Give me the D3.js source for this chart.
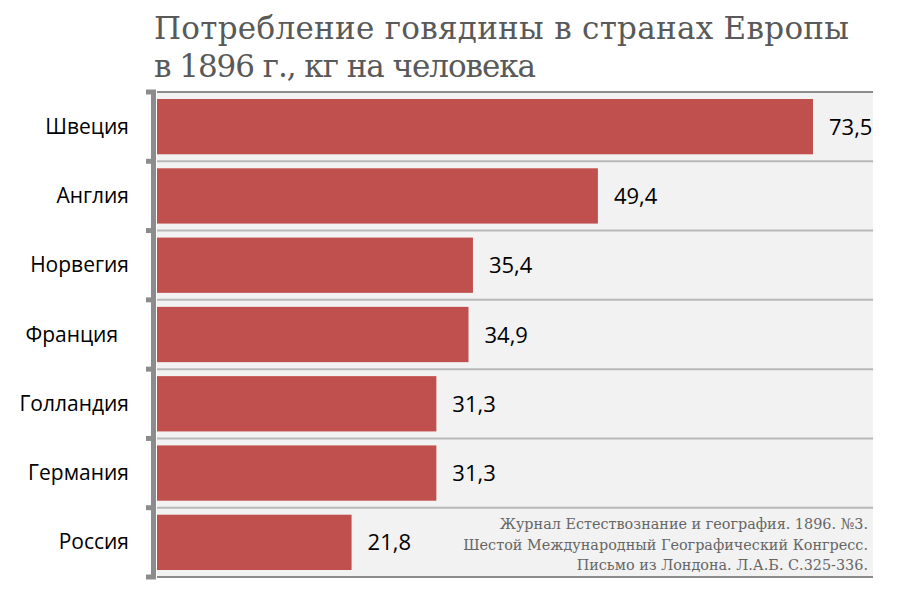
<!DOCTYPE html>
<html><head><meta charset="utf-8">
<script src="https://cdn.jsdelivr.net/npm/d3@7"></script>
<style>body{margin:0;background:#fff}svg{display:block}</style>
</head><body>
<script>
const categories = ["Швеция","Англия","Норвегия","Франция\u00a0\u00a0","Голландия","Германия","Россия"];
const values = [73.5,49.4,35.4,34.9,31.3,31.3,21.8];
const valueLabels = ["73,5","49,4","35,4","34,9","31,3","31,3","21,8"];
const titleLines = ["Потребление говядины в странах Европы","в 1896 г., кг на человека"];
const sourceLines = ["Журнал Естествознание и география. 1896. №3.","Шестой Международный Географический Конгресс.","Письмо из Лондона. Л.А.Б. С.325-336."];

const W=900,H=605;
const svg=d3.select("body").append("svg").attr("width",W).attr("height",H);
const x=d3.scaleLinear().domain([0,80]).range([157,871]);
const y=d3.scaleBand().domain(d3.range(categories.length)).range([92,577]).paddingInner(0).paddingOuter(0);

// background
svg.append("rect").attr("x",157).attr("y",92).attr("width",716).attr("height",485).attr("fill","#f2f2f2");
// separators
svg.selectAll("line.sep").data(d3.range(1,categories.length)).join("line")
  .attr("x1",157).attr("x2",873).attr("y1",d=>y(d)).attr("y2",d=>y(d))
  .attr("stroke","#b8b8b8").attr("stroke-width",2);
svg.append("line").attr("x1",157).attr("x2",873).attr("y1",92).attr("y2",92).attr("stroke","#8c8c8c").attr("stroke-width",2);
svg.append("line").attr("x1",157).attr("x2",873).attr("y1",577).attr("y2",577).attr("stroke","#8c8c8c").attr("stroke-width",2);

// bars
const bw=y.bandwidth();
svg.selectAll("rect.bar").data(values).join("rect")
  .attr("x",x(0)).attr("y",(d,i)=>y(i)+7).attr("height",bw-14)
  .attr("width",d=>x(d)-x(0)).attr("fill","#c0504d");

// value labels
svg.selectAll("text.val").data(values).join("text")
  .attr("x",d=>x(d)+16).attr("y",(d,i)=>y(i)+bw/2+8)
  .attr("font-family","Open Sans").attr("font-size",22).attr("fill","#000")
  .text((d,i)=>valueLabels[i]);

// axis
const axis=d3.axisLeft(y).tickValues([]).tickSize(0);
const g=svg.append("g").attr("transform","translate(153.5,0)").call(axis);
g.select(".domain").attr("stroke","#8c8c8c").attr("stroke-width",5).attr("d","M0,90V579");
svg.selectAll("line.tick").data(d3.range(categories.length+1)).join("line")
  .attr("x1",146).attr("x2",156)
  .attr("y1",d=>d<categories.length?y(d):577).attr("y2",d=>d<categories.length?y(d):577)
  .attr("stroke","#8c8c8c").attr("stroke-width",5);

// category labels
svg.selectAll("text.cat").data(categories).join("text")
  .attr("x",129).attr("y",(d,i)=>y(i)+bw/2+7).attr("text-anchor","end")
  .attr("font-family","Open Sans").attr("font-size",21).attr("fill","#000")
  .attr("xml:space","preserve").text(d=>d);

// title
const titleWidths=[695,382];
svg.selectAll("text.title").data(titleLines).join("text")
  .attr("x",154).attr("y",(d,i)=>39+i*38)
  .attr("font-family","DejaVu Serif").attr("font-size",31).attr("fill","#595959")
  .attr("textLength",(d,i)=>titleWidths[i]).attr("lengthAdjust","spacing")
  .text(d=>d);

// source
svg.selectAll("text.src").data(sourceLines).join("text")
  .attr("x",868).attr("y",(d,i)=>529+i*20.5).attr("text-anchor","end")
  .attr("font-family","DejaVu Serif").attr("font-size",14.4).attr("fill","#666")
  .text(d=>d);
</script>
</body></html>
